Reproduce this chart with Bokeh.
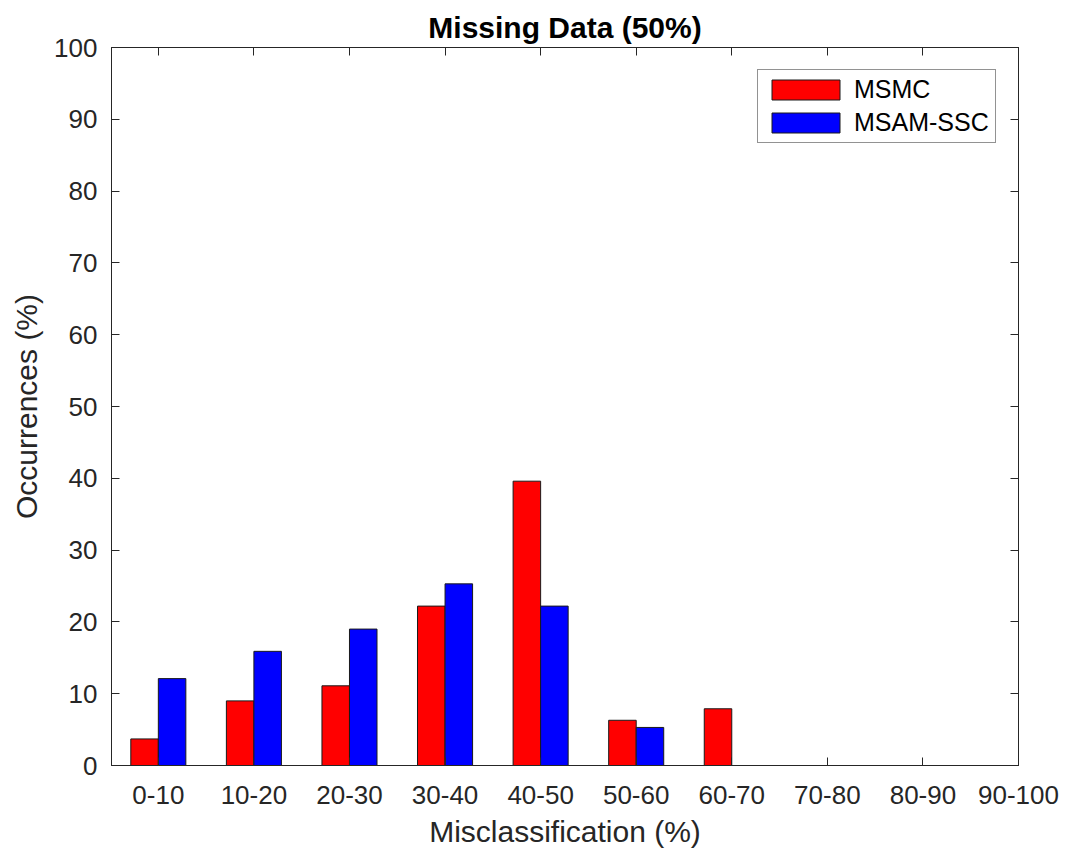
from bokeh.plotting import figure
from bokeh.models import (ColumnDataSource, Range1d, FixedTicker, LinearAxis,
                          Legend, LegendItem, Title)
from bokeh.transform import dodge
from bokeh.embed import file_html
from bokeh.resources import INLINE

# Misclassification bins and occurrence percentages per method
categories = ["0-10", "10-20", "20-30", "30-40", "40-50",
              "50-60", "60-70", "70-80", "80-90", "90-100"]
msmc = [3.7, 9.0, 11.1, 22.2, 39.6, 6.3, 7.9, 0.0, 0.0, 0.0]
msam_ssc = [12.1, 15.9, 19.0, 25.3, 22.2, 5.3, 0.0, 0.0, 0.0, 0.0]
y_ticks = list(range(0, 101, 10))

positions = list(range(1, len(categories) + 1))
source = ColumnDataSource(data=dict(x=positions, msmc=msmc, msam=msam_ssc))

FONT = "Liberation Sans"
INK = "#262626"

p = figure(width=1068, height=861, output_backend="svg", toolbar_location=None,
           x_range=Range1d(0.51, 10.0), y_range=Range1d(0, 100),
           min_border_left=111, min_border_right=50,
           min_border_top=47, min_border_bottom=96)
p.background_fill_color = "white"
p.border_fill_color = "white"
p.outline_line_color = INK
p.outline_line_width = 1
p.xgrid.visible = False
p.ygrid.visible = False

bar_w = 0.288
r_red = p.vbar(x=dodge("x", -bar_w / 2), top="msmc", width=bar_w, source=source,
               fill_color="#ff0000", line_color="#1a1a1a", line_width=1)
r_blue = p.vbar(x=dodge("x", bar_w / 2), top="msam", width=bar_w, source=source,
                fill_color="#0000ff", line_color="#1a1a1a", line_width=1)

xticker = FixedTicker(ticks=positions)
yticker = FixedTicker(ticks=y_ticks)


def style_axis(ax):
    ax.axis_line_color = INK
    ax.major_tick_line_color = INK
    ax.major_tick_in = 8
    ax.major_tick_out = 0
    ax.minor_tick_line_color = None
    ax.major_label_text_font = FONT
    ax.major_label_text_color = INK
    ax.axis_label_text_font = FONT
    ax.axis_label_text_color = INK
    ax.axis_label_text_font_style = "normal"


xa = p.xaxis[0]
xa.ticker = xticker
xa.major_label_overrides = {i: c for i, c in zip(positions, categories)}
xa.axis_label = "Misclassification (%)"
style_axis(xa)
xa.major_label_text_font_size = "26px"
xa.axis_label_text_font_size = "30px"
xa.major_label_standoff = 20
xa.axis_label_standoff = 8

ya = p.yaxis[0]
ya.ticker = yticker
ya.axis_label = "Occurrences (%)"
style_axis(ya)
ya.major_label_text_font_size = "26px"
ya.axis_label_text_font_size = "30px"
ya.major_label_standoff = 14
ya.axis_label_standoff = 8

# mirrored tick marks on the top and right edges of the box (no labels)
top_ax = LinearAxis(ticker=xticker)
right_ax = LinearAxis(ticker=yticker)
for ax in (top_ax, right_ax):
    style_axis(ax)
    ax.major_label_text_color = None
    ax.major_label_text_font_size = "1px"
    ax.major_label_standoff = 0
p.add_layout(top_ax, "above")
p.add_layout(right_ax, "right")

p.title = Title(text="Missing Data (50%)", align="center",
                text_font=FONT, text_font_size="30px", text_font_style="bold",
                text_color="#000000", standoff=8)

legend = Legend(items=[LegendItem(label="MSMC", renderers=[r_red]),
                       LegendItem(label="MSAM-SSC", renderers=[r_blue])],
                location="top_right", margin=22, padding=5, spacing=4,
                glyph_width=85, glyph_height=25, label_height=25,
                label_width=136, label_standoff=6, label_text_font=FONT,
                label_text_font_size="25px", label_text_color="#000000",
                border_line_color=INK, border_line_width=1,
                background_fill_alpha=1.0)
p.add_layout(legend)

open("out.html", "w").write(file_html(p, INLINE))
